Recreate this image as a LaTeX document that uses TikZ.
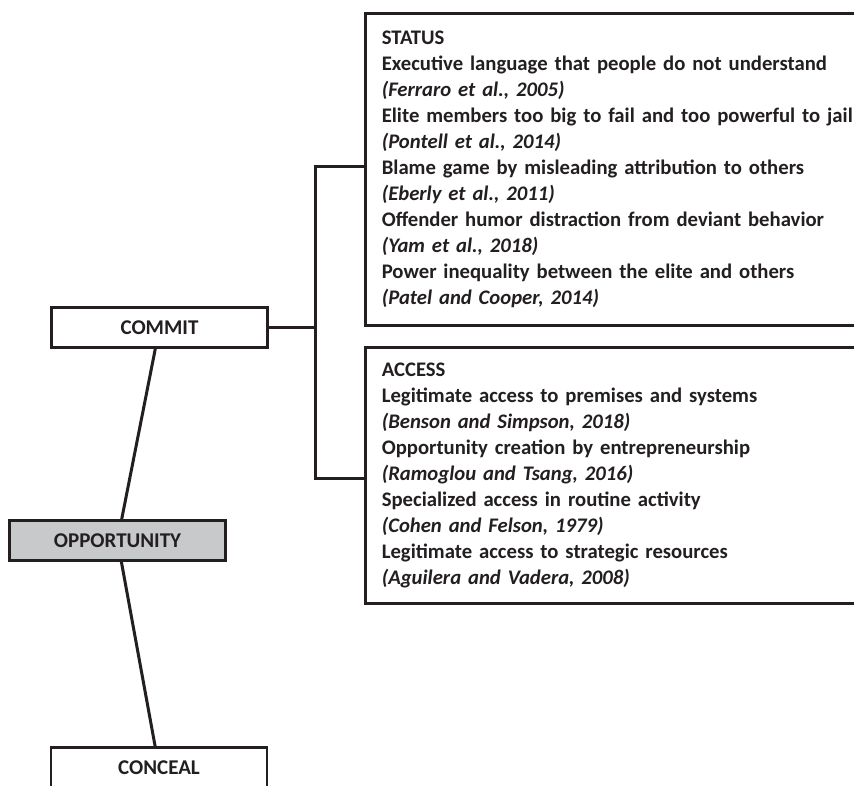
\documentclass[tikz,border=0pt]{standalone}
\usepackage{fontspec}
\setmainfont{Carlito}
\definecolor{ink}{HTML}{231F20}
\definecolor{boxgray}{HTML}{C8C9CB}
\begin{document}
\begin{tikzpicture}[x=1pt,y=-1pt,
  every node/.style={text=ink},
  stage/.style={draw=ink, line width=2.8pt, line join=miter, fill=white,
    minimum width=216pt, minimum height=40pt, inner sep=0pt,
    font=\fontsize{21}{24}\selectfont\bfseries},
  listbox/.style={draw=ink, line width=2.8pt, line join=miter, fill=white,
    anchor=north west, text width=486pt, align=left, inner xsep=16pt, inner ysep=0pt,
    font=\fontsize{20.7}{26}\selectfont\bfseries},
  link/.style={draw=ink, line width=3pt, line join=miter}]
\clip (0,0) rectangle (854,785);
\fill[white] (0,0) rectangle (854,785);

% the three stages on the left
\node[stage] (commit) at (159.5,327.5) {COMMIT};
\node[stage, fill=boxgray] (opportunity) at (117.5,540.5) {OPPORTUNITY};
\node[stage] (conceal) at (159,767.5) {CONCEAL};

% the two lists on the right
\node[listbox, minimum height=312pt] (status) at (364.4,12.4) {%
STATUS\\
Executive language that people do not understand\\
\textit{(Ferraro et al., 2005)}\\
Elite members too big to fail and too powerful to jail\\
\textit{(Pontell et al., 2014)}\\
Blame game by misleading attribution to others\\
\textit{(Eberly et al., 2011)}\\
Offender humor distraction from deviant behavior\\
\textit{(Yam et al., 2018)}\\
Power inequality between the elite and others\\
\textit{(Patel and Cooper, 2014)}};

\node[listbox, minimum height=256pt] (access) at (364.4,346.4) {%
ACCESS\\
Legitimate access to premises and systems\\
\textit{(Benson and Simpson, 2018)}\\
Opportunity creation by entrepreneurship\\
\textit{(Ramoglou and Tsang, 2016)}\\
Specialized access in routine activity\\
\textit{(Cohen and Felson, 1979)}\\
Legitimate access to strategic resources\\
\textit{(Aguilera and Vadera, 2008)}};

% bracket joining COMMIT to both lists
\coordinate (jt) at (315,166);
\coordinate (jb) at (315,478);
\draw[link] (jt -| status.west) -- (jt) -- (jb) -- (jb -| access.west);
\draw[link] (commit.east) -- (commit.east -| jt);

% the chain of stages
\draw[link] (commit) -- (opportunity);
\draw[link] (opportunity) -- (conceal);
\end{tikzpicture}
\end{document}
